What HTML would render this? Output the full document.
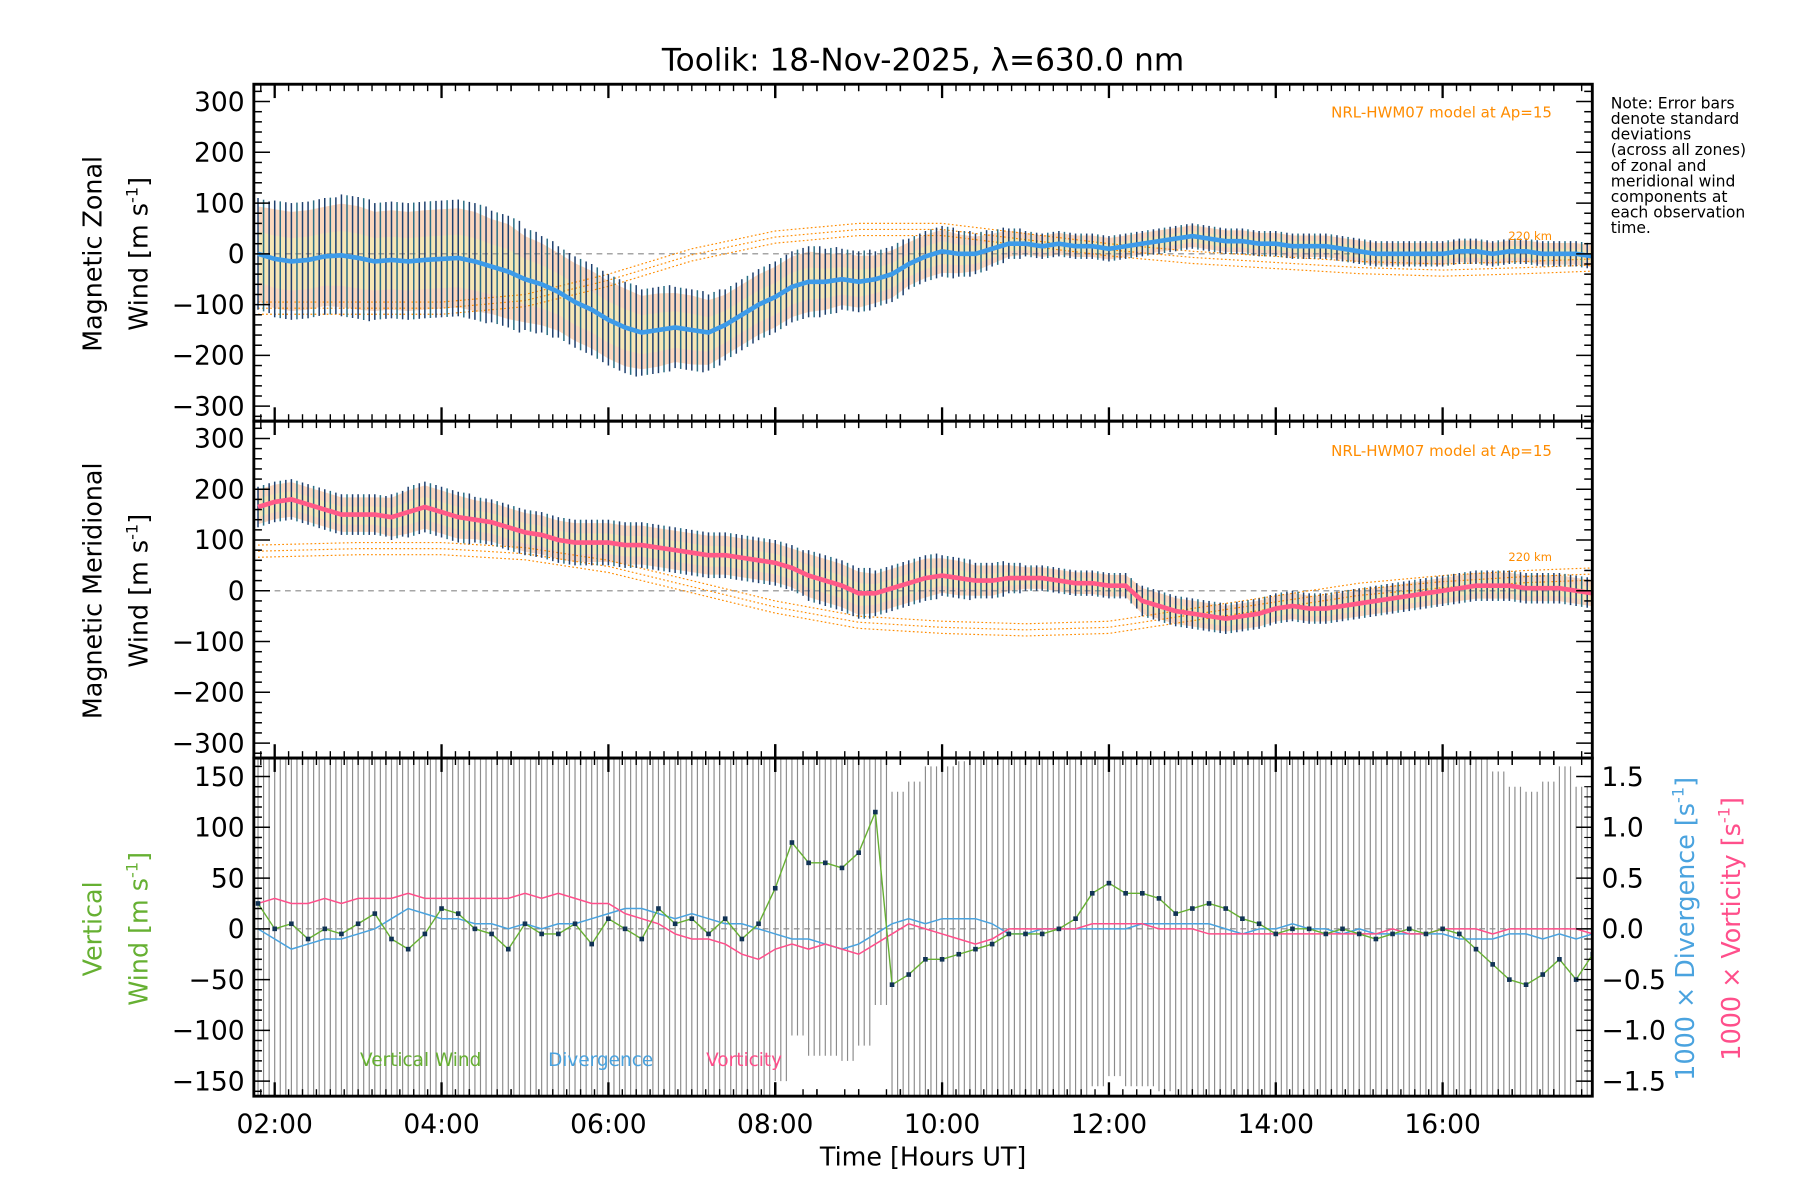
<!DOCTYPE html>
<html><head><meta charset="utf-8"><style>
html,body{margin:0;padding:0;background:#fff;}
svg{display:block;font-family:"DejaVu Sans","Liberation Sans",sans-serif;}
</style></head><body>
<svg id="chart" width="1800" height="1200" viewBox="0 0 1560 1040" xmlns="http://www.w3.org/2000/svg">
<rect width="1560" height="1040" fill="#fff"/>
<text x="800" y="61" font-size="27" text-anchor="middle">Toolik: 18-Nov-2025, λ=630.0 nm</text>
<g id="g1"></g><g id="g2"></g><g id="g3"></g><g id="axes"></g>
<g font-size="13.5" fill="#000">
<text x="1396" y="94">Note: Error bars</text><text x="1396" y="107.5">denote standard</text><text x="1396" y="121">deviations</text><text x="1396" y="134.5">(across all zones)</text><text x="1396" y="148">of zonal and</text><text x="1396" y="161.5">meridional wind</text><text x="1396" y="175">components at</text><text x="1396" y="188.5">each observation</text><text x="1396" y="202">time.</text>
</g>
<text x="1345" y="102" font-size="13" fill="#ff8c00" text-anchor="end">NRL-HWM07 model at Ap=15</text>
<text x="1345" y="395" font-size="13" fill="#ff8c00" text-anchor="end">NRL-HWM07 model at Ap=15</text>
<text x="1345" y="208" font-size="10" fill="#ff8c00" text-anchor="end">220 km</text>
<text x="1345" y="486" font-size="10" fill="#ff8c00" text-anchor="end">220 km</text>
<g font-size="22">
<text transform="translate(88,220) rotate(-90)" text-anchor="middle">Magnetic Zonal</text>
<text transform="translate(128,220) rotate(-90)" text-anchor="middle">Wind [m s<tspan font-size="14" dy="-9">-1</tspan><tspan dy="9">]</tspan></text>
</g>
<g font-size="22">
<text transform="translate(88,512) rotate(-90)" text-anchor="middle">Magnetic Meridional</text>
<text transform="translate(128,512) rotate(-90)" text-anchor="middle">Wind [m s<tspan font-size="14" dy="-9">-1</tspan><tspan dy="9">]</tspan></text>
</g>
<g font-size="22" fill="#66b032">
<text transform="translate(88,805) rotate(-90)" text-anchor="middle">Vertical</text>
<text transform="translate(128,805) rotate(-90)" text-anchor="middle">Wind [m s<tspan font-size="14" dy="-9">-1</tspan><tspan dy="9">]</tspan></text>
</g>
<text transform="translate(1468,805) rotate(-90)" text-anchor="middle" font-size="22" fill="#4aa3df">1000 × Divergence [s<tspan font-size="14" dy="-9">-1</tspan><tspan dy="9">]</tspan></text>
<text transform="translate(1508,805) rotate(-90)" text-anchor="middle" font-size="22" fill="#ff4f8b">1000 × Vorticity [s<tspan font-size="14" dy="-9">-1</tspan><tspan dy="9">]</tspan></text>
<text x="800" y="1010" font-size="22" text-anchor="middle">Time [Hours UT]</text>
<text x="312" y="924" font-size="16" fill="#66b032">Vertical Wind</text>
<text x="475" y="924" font-size="16" fill="#4aa3df">Divergence</text>
<text x="612" y="924" font-size="16" fill="#ff4f8b">Vorticity</text>
</svg>
<script>
const t0 = 1.8, dt = 0.2;
const zonalMean = [0,-10,-15,-12,-5,-3,-8,-15,-12,-15,-12,-10,-8,-15,-25,-35,-50,-60,-75,-95,-110,-130,-145,-155,-150,-145,-150,-155,-140,-120,-100,-85,-65,-55,-55,-50,-55,-50,-40,-20,-5,5,0,0,10,20,20,15,20,15,15,10,15,20,25,30,35,30,25,25,20,20,15,15,15,10,5,0,0,0,0,0,5,5,0,5,5,0,0,0,-5];
const zonalErr = [110,115,115,115,115,120,120,115,115,115,115,115,115,115,110,110,100,95,90,90,90,90,90,85,85,80,80,75,70,70,70,70,70,70,65,60,60,55,55,50,50,50,45,40,35,30,25,25,25,25,25,25,25,25,25,25,25,25,25,25,25,25,25,25,25,25,25,25,25,25,25,25,25,25,25,25,25,25,25,25,25];
const meridMean = [165,175,180,170,160,150,150,150,145,155,165,155,145,140,135,125,115,110,100,95,95,95,90,90,85,80,75,70,70,65,60,55,45,30,20,10,-5,-5,5,15,25,30,25,20,20,25,25,25,20,15,15,10,10,-20,-30,-40,-45,-50,-55,-50,-45,-35,-30,-35,-35,-30,-25,-20,-15,-10,-5,0,5,10,10,10,5,5,5,0,-5];
const meridErr = [40,40,40,40,40,40,40,40,45,50,50,50,50,45,45,45,45,45,45,45,45,45,45,45,45,45,45,45,45,45,45,45,45,50,50,50,50,45,45,45,45,40,40,35,35,30,25,25,25,25,25,25,25,30,30,30,30,30,30,30,30,30,30,30,30,30,30,30,30,30,30,30,30,30,30,30,30,30,30,30,30];
const vertWind = [25,0,5,-10,0,-5,5,15,-10,-20,-5,20,15,0,-5,-20,5,-5,-5,5,-15,10,0,-10,20,5,10,-5,10,-10,5,40,85,65,65,60,75,115,-55,-45,-30,-30,-25,-20,-15,-5,-5,-5,0,10,35,45,35,35,30,15,20,25,20,10,5,-5,0,0,-5,0,-5,-10,-5,0,-5,0,-5,-20,-35,-50,-55,-45,-30,-50,-25];
const divergence = [0,-0.1,-0.2,-0.15,-0.1,-0.1,-0.05,0,0.1,0.2,0.15,0.1,0.1,0.05,0.05,0,0.05,0,0.05,0.05,0.1,0.15,0.2,0.2,0.15,0.1,0.15,0.1,0.05,0.05,0,-0.05,-0.1,-0.1,-0.15,-0.2,-0.15,-0.05,0.05,0.1,0.05,0.1,0.1,0.1,0.05,-0.05,-0.05,0,0,0,0,0,0,0.05,0.05,0.05,0.05,0.05,0,-0.05,0,0,0.05,0,0,-0.05,0,-0.05,-0.05,-0.05,-0.05,-0.05,-0.1,-0.1,-0.1,-0.05,-0.05,-0.1,-0.05,-0.1,-0.05];
const vorticity = [0.25,0.3,0.25,0.25,0.3,0.25,0.3,0.3,0.3,0.35,0.3,0.3,0.3,0.3,0.3,0.3,0.35,0.3,0.35,0.3,0.25,0.25,0.15,0.1,0.05,-0.05,-0.1,-0.1,-0.15,-0.25,-0.3,-0.2,-0.15,-0.2,-0.15,-0.2,-0.25,-0.15,-0.05,0.05,0,-0.05,-0.1,-0.15,-0.1,0,0,0,0,0,0.05,0.05,0.05,0.05,0,0,0,-0.05,-0.05,-0.05,-0.05,-0.05,-0.05,-0.05,-0.05,-0.05,-0.05,-0.05,0,-0.05,-0.05,0,0,0,-0.05,0,0,0,0,0,-0.05];
const hwmHours = [1.8,3,4,5,6,7,8,9,10,11,12,13,14,15,16,17,17.8];
const hwmZonal = [-95,-95,-95,-80,-40,10,45,60,60,40,20,5,-5,-15,-20,-15,-10];
const hwmMerid = [90,95,95,85,60,20,-20,-50,-60,-65,-60,-35,-10,15,30,40,45];
const hwmOffsets = [0,-12,-24];
const xTickHours = [2,4,6,8,10,12,14,16];
const xTickLabels = ["02:00","04:00","06:00","08:00","10:00","12:00","14:00","16:00"];
const windTicks = [300,200,100,0,-100,-200,-300];
const vertTicks = [150,100,50,0,-50,-100,-150];
const rightTicks = [1.5,1.0,0.5,0.0,-0.5,-1.0,-1.5];

const NS="http://www.w3.org/2000/svg";
const X0=220,X1=1380;
const X=t=>X0+(t-1.75)*72.3;
const Y1=v=>220-v*0.44, Y2=v=>512-v*0.44, Y3=v=>805-v*0.88, YR=v=>805-v*88;
const panels=[[73,365],[365,657],[657,950]];
function mk(tag,attrs,parent){const e=document.createElementNS(NS,tag);for(const k in attrs)e.setAttribute(k,attrs[k]);parent.appendChild(e);return e;}
const g1=document.getElementById('g1'),g2=document.getElementById('g2'),g3=document.getElementById('g3'),ax=document.getElementById('axes');
const clip=mk('defs',{},g1);
panels.forEach((p,i)=>{const c=mk('clipPath',{id:'c'+i},clip);mk('rect',{x:X0,y:p[0],width:X1-X0,height:p[1]-p[0]},c);});
const T=i=>t0+i*dt;

function windPanel(g,Y,mean,err,lineColor,ci,hwm){
  g.setAttribute('clip-path','url(#c'+ci+')');
  // pale zone band
  let up='',dn='';
  mean.forEach((v,i)=>{up+=(i?'L':'M')+X(T(i))+','+Y(v+err[i]*0.85);});
  for(let i=mean.length-1;i>=0;i--)dn+='L'+X(T(i))+','+Y(mean[i]-err[i]*0.85);
  const band=mk('path',{d:up+dn+'Z',fill:'#f9c9a8',opacity:0.75},g);
  
  
  let up2='',dn2='';
  mean.forEach((v,i)=>{up2+=(i?'L':'M')+X(T(i))+','+Y(v+err[i]*0.4);});
  for(let i=mean.length-1;i>=0;i--)dn2+='L'+X(T(i))+','+Y(mean[i]-err[i]*0.5);
  const band2=mk('path',{d:up2+dn2+'Z',fill:'#f3f0b0',opacity:0.6},g);
  
  
  // zero line
  const z=mk('line',{x1:X0,x2:X1,y1:Y(0),y2:Y(0),stroke:'#888','stroke-dasharray':'5,4','stroke-width':1},g);
  
  
  // hwm curves
  hwmOffsets.forEach(o=>{
    const d=hwmHours.map((h,i)=>(i?'L':'M')+X(h)+','+Y(hwm[i]+o)).join('');
    const p=mk('path',{d:d,fill:'none',stroke:'#ff8c00','stroke-width':1,'stroke-dasharray':'1.5,2'},g);
    
    
  });
  // error bars (two per sample for density)
  mean.forEach((v,i)=>{
    for(let k=0;k<3;k++){
      const tt=T(i)+k*dt/3, vv=k===0?v:v+(mean[Math.min(i+1,mean.length-1)]-v)*k/3;
      const e=mk('line',{x1:X(tt),x2:X(tt),y1:Y(vv+err[i]),y2:Y(vv-err[i]),stroke:k===1?'#2a6f86':'#1d3f6e','stroke-width':1.3},g);
      
      
    }
  });
  const d=mean.map((v,i)=>(i?'L':'M')+X(T(i))+','+Y(v)).join('');
  const l=mk('path',{d:d,fill:'none',stroke:lineColor,'stroke-width':4},g);
  
  
}
windPanel(g1,Y1,zonalMean,zonalErr,'#3d9be9',0,hwmZonal);
windPanel(g2,Y2,meridMean,meridErr,'#ff5a88',1,hwmMerid);

// bottom panel
g3.setAttribute('clip-path','url(#c2)');
vertWind.forEach((v,i)=>{
  for(let k=0;k<3;k++){
    const tt=T(i)+k*dt/3;
    const e=mk('line',{x1:X(tt),x2:X(tt),y1:Y3(v+190),y2:Y3(v-190),stroke:'#8a8a8a','stroke-width':1},g3);
    
    
  }
});
const z3=mk('line',{x1:X0,x2:X1,y1:Y3(0),y2:Y3(0),stroke:'#888','stroke-dasharray':'5,4'},g3);


function series(arr,Y,col,name,w){
  const d=arr.map((v,i)=>(i?'L':'M')+X(T(i))+','+Y(v)).join('');
  const p=mk('path',{d:d,fill:'none',stroke:col,'stroke-width':w},g3);
  
  
}
series(divergence,YR,'#4aa3df','divergence-line',1.3);
series(vorticity,YR,'#ff4f8b','vorticity-line',1.3);
series(vertWind,Y3,'#66b032','vertical-wind-line',1.2);
vertWind.forEach((v,i)=>{
  const c=mk('rect',{x:X(T(i))-2,y:Y3(v)-2,width:4,height:4,fill:'#113355'},g3);
  
  
});

// axes frames and ticks
panels.forEach((p,pi)=>{
  const r=mk('rect',{x:X0,y:p[0],width:X1-X0,height:p[1]-p[0],fill:'none',stroke:'#000','stroke-width':2.5},ax);
  
  
  // x minor ticks every 10 min
  for(let m=0;m<=16*6+2;m++){
    const h=1.75+m/6; if(h>17.8)break;
    const x=X(Math.round(h*6)/6); if(x<X0||x>X1)continue;
    const major=Math.abs((Math.round(h*6)/6)%2)<1e-6;
    const L=major?12:6;
    mk('line',{x1:x,x2:x,y1:p[0],y2:p[0]+L,stroke:'#000','stroke-width':major?2:1.2},ax);
    mk('line',{x1:x,x2:x,y1:p[1],y2:p[1]-L,stroke:'#000','stroke-width':major?2:1.2},ax);
  }
  // y ticks
  const Y=pi===0?Y1:pi===1?Y2:Y3;
  const step=pi<2?20:10, lim=pi<2?320:165;
  for(let v=-lim+((lim)%step);v<=lim;v+=step){
    const y=Y(v); if(y<p[0]||y>p[1])continue;
    const major=pi<2?v%100===0:v%50===0;
    const L=major?14:7;
    mk('line',{x1:X0,x2:X0+L,y1:y,y2:y,stroke:'#000','stroke-width':1.3},ax);
    if(pi<2)mk('line',{x1:X1,x2:X1-L,y1:y,y2:y,stroke:'#000','stroke-width':1.3},ax);
  }
});
function ylabels(ticks,Y,name){
  ticks.forEach(v=>{
    const t=mk('text',{x:212,y:Y(v)+8,'font-size':23,'text-anchor':'end'},ax);
    
    
    t.textContent=v<0?'−'+Math.abs(v):String(v);
  });
}
ylabels(windTicks,Y1,'zonal-y-tick-label');
ylabels(windTicks,Y2,'meridional-y-tick-label');
ylabels(vertTicks,Y3,'vertical-y-tick-label');
rightTicks.forEach(v=>{
  const y=YR(v);
  mk('line',{x1:X1,x2:X1-14,y1:y,y2:y,stroke:'#000','stroke-width':1.3},ax);
  const t=mk('text',{x:1388,y:y+8,'font-size':23},ax);
  
  
  t.textContent=(v<0?'−':'')+Math.abs(v).toFixed(1);
});
for(let v=-1.5;v<=1.5001;v+=0.1){const y=YR(v);mk('line',{x1:X1,x2:X1-7,y1:y,y2:y,stroke:'#000','stroke-width':1},ax);}
xTickHours.forEach((h,i)=>{
  const t=mk('text',{x:X(h),y:982,'font-size':23,'text-anchor':'middle'},ax);
  
  
  t.textContent=xTickLabels[i];
});
</script>
</body></html>
